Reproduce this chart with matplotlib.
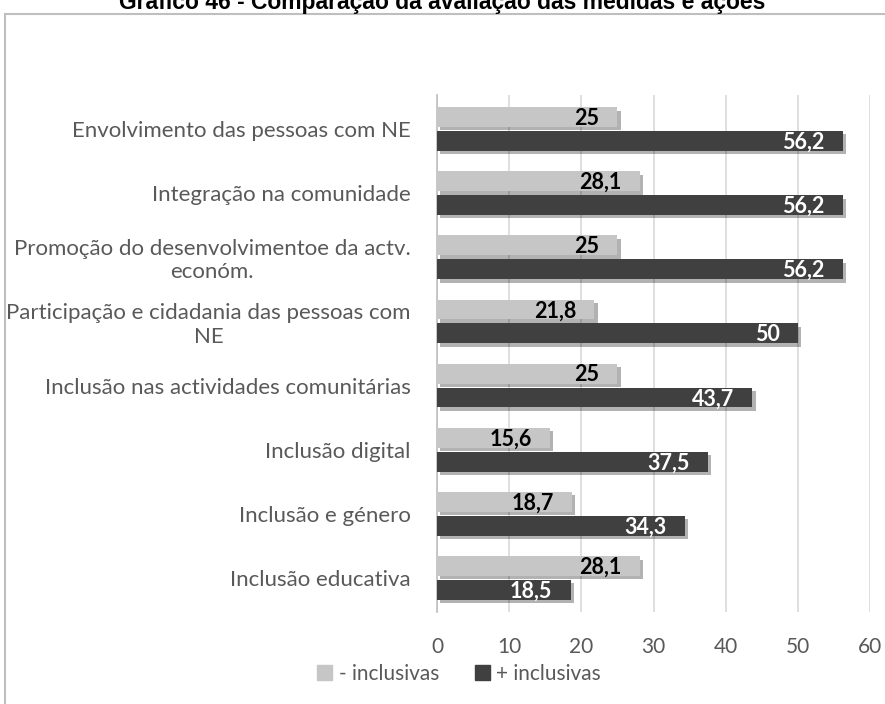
import numpy as np
import matplotlib.pyplot as plt
import matplotlib.patheffects as pe
from matplotlib.patches import Rectangle

categorias = [
    "Envolvimento das pessoas com NE",
    "Integração na comunidade",
    "Promoção do desenvolvimentoe da actv.\neconóm.",
    "Participação e cidadania das pessoas com\nNE",
    "Inclusão nas actividades comunitárias",
    "Inclusão digital",
    "Inclusão e género",
    "Inclusão educativa",
]
menos_inclusivas = [25, 28.1, 25, 21.8, 25, 15.6, 18.7, 28.1]
mais_inclusivas = [56.2, 56.2, 56.2, 50, 43.7, 37.5, 34.3, 18.5]
ticks_x = [0, 10, 20, 30, 40, 50, 60]

cor_clara = "#c6c6c6"
cor_escura = "#404040"
cor_texto = "#595959"
fonte = ["Lato", "DejaVu Sans"]

W, H = 885, 704
fig = plt.figure(figsize=(W / 100, H / 100), dpi=100)

# moldura do gráfico
fig.patches.append(Rectangle((5 / W, -0.1), 1.2, 1 - 14 / H + 0.1,
                             transform=fig.transFigure, fill=False,
                             edgecolor="#bfbfbf", lw=1.5))

fig.text(442 / W, 1 - 9 / H, "Gráfico 46 - Comparação da avaliação das medidas e ações",
         ha="center", va="baseline", fontsize=16.5, fontweight="bold",
         family="Liberation Sans", color="black")

ax = fig.add_axes([437 / W, 1 - 612 / H, (870 - 437) / W, (612 - 95) / H])

y = np.arange(len(categorias))
h = 0.31
off = 0.186
sombra = [pe.SimplePatchShadow(offset=(2.5, -2.5), shadow_rgbFace="#000000", alpha=0.3), pe.Normal()]

b1 = ax.barh(y - off, menos_inclusivas, height=h, color=cor_clara, zorder=3)
b2 = ax.barh(y + off, mais_inclusivas, height=h, color=cor_escura, zorder=3)
for b in list(b1) + list(b2):
    b.set_path_effects(sombra)

def fmt(v):
    return ("%g" % v).replace(".", ",")

for yi, v in zip(y, menos_inclusivas):
    ax.text(v - 2.5, yi - off + 0.02, fmt(v), ha="right", va="center",
            fontsize=15.5, fontweight="bold", family=fonte, color="black", zorder=5)
for yi, v in zip(y, mais_inclusivas):
    ax.text(v - 2.5, yi + off + 0.02, fmt(v), ha="right", va="center",
            fontsize=15.5, fontweight="bold", family=fonte, color="white", zorder=5)

ax.set_xlim(0, 60)
ax.set_ylim(len(categorias) - 0.47, -0.53)
ax.set_xticks(ticks_x)
ax.set_yticks(y)
ax.set_yticklabels(categorias, ha="right", multialignment="center", linespacing=1.2)
ax.tick_params(axis="y", length=0, pad=19, labelsize=16, labelcolor=cor_texto)
for lab in ax.get_yticklabels():
    lab.set_family(fonte)
ax.tick_params(axis="x", length=0, pad=18, labelsize=15, labelcolor=cor_texto)
for lab in ax.get_xticklabels():
    lab.set_family(fonte)

ax.grid(axis="x", color="#d9d9d9", lw=1.2, zorder=0)
for s in ["top", "right", "bottom"]:
    ax.spines[s].set_visible(False)
ax.spines["left"].set_color("#bfbfbf")
ax.spines["left"].set_linewidth(1.2)

handles = [Rectangle((0, 0), 1, 1, color=cor_clara), Rectangle((0, 0), 1, 1, color=cor_escura)]
fig.legend(handles, ["- inclusivas", "+ inclusivas"], loc="center",
           bbox_to_anchor=(459 / W, 1 - 674 / H),
           ncol=2, frameon=False, handlelength=0.75, handleheight=0.75,
           handletextpad=0.3, columnspacing=1.7,
           prop={"family": fonte, "size": 15}, labelcolor=cor_texto)

fig.savefig("out.png", dpi=100)
